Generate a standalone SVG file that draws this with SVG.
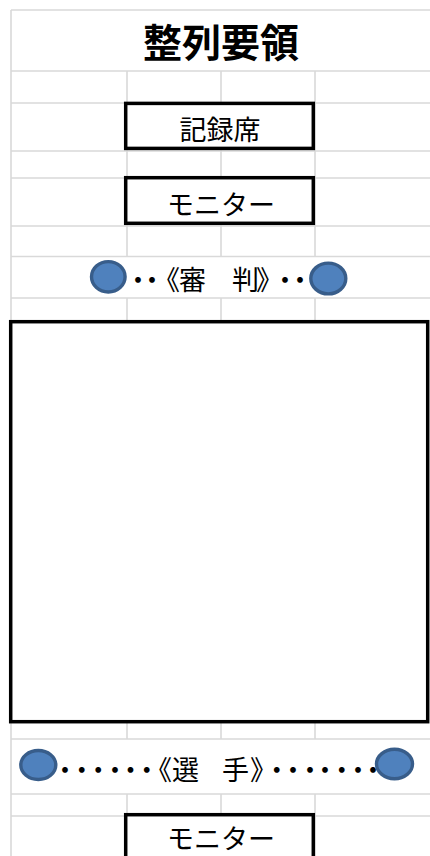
<svg xmlns="http://www.w3.org/2000/svg" width="430" height="856" viewBox="0 0 430 856">
<style>
.grid{stroke:#d9d9d9;stroke-width:1.6;fill:none}
.box{fill:#fff;stroke:#000;stroke-width:3.5}
.lbl{font-family:"Noto Sans CJK JP","Noto Sans CJK SC",sans-serif;font-size:27px;fill:#000}
.ttl{font-family:"Noto Sans CJK JP","Noto Sans CJK SC",sans-serif;font-size:39px;font-weight:bold;fill:#000}
.dot{fill:#4f81bd;stroke:#385d8a;stroke-width:3.4}
</style>
<rect width="430" height="856" fill="#fff"/>
<g id="grid" class="grid">
<path d="M11 10H430M11 71H430M11 103H430M11 151H430M11 178H430M11 226H430M11 256.5H430M11 298H430M11 739H430M11 794H430M11 816H430"/>
<path d="M11 10V856M127 71V256.5M221 71V256.5M315 71V256.5M127 298V320M221 298V320M315 298V320M127 723V739M221 723V739M315 723V739M127 794V856M221 794V856M315 794V856"/>
</g>
<g id="title">
<text class="ttl" x="221" y="57" text-anchor="middle">整列要領</text>
</g>
<g id="kirokuseki">
<rect class="box" x="125.7" y="103.4" width="187.6" height="45"/>
<text class="lbl" x="220" y="139.5" text-anchor="middle">記録席</text>
</g>
<g id="monitor-top">
<rect class="box" x="125.7" y="177.7" width="187.6" height="45.6"/>
<text class="lbl" x="221" y="215" text-anchor="middle">モニター</text>
</g>
<g id="judges">
<text class="lbl" x="124.5 138.5 153 179 205 232 256 271.5 286.5" y="290">・・《審　判》・・</text>
<ellipse class="dot" cx="108.3" cy="276.8" rx="16.8" ry="15.2"/>
<ellipse class="dot" cx="328.3" cy="278.5" rx="17.5" ry="15.4"/>
</g>
<g id="court">
<rect class="box" x="10.7" y="321.7" width="417" height="400"/>
</g>
<g id="players">
<text class="lbl" x="51.5 68.2 84.8 101.5 117 133.2 145 172 198 222 250 263.2 279.5 296.5 311.5 328.2 344.5 359.5" y="780">・・・・・・《選　手》・・・・・・・</text>
<ellipse class="dot" cx="38.3" cy="765" rx="17.5" ry="14.5"/>
<ellipse class="dot" cx="394.5" cy="764" rx="18" ry="14.7"/>
</g>
<g id="monitor-bottom">
<rect class="box" x="125.7" y="814.7" width="187.6" height="50"/>
<text class="lbl" x="221" y="849" text-anchor="middle">モニター</text>
</g>
<g id="connectors"/>
</svg>
